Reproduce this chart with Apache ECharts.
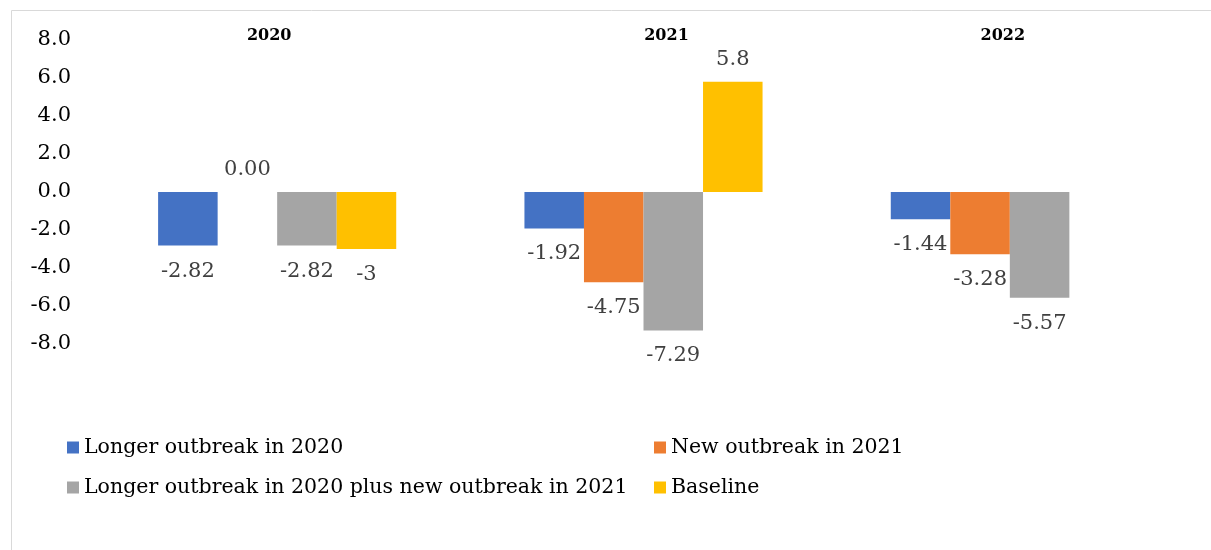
<!DOCTYPE html>
<html>
<head>
<meta charset="utf-8">
<script src="https://cdn.jsdelivr.net/npm/echarts@6/dist/echarts.min.js"></script>
<style>
  html, body { margin: 0; padding: 0; background: #fff; }
  #chart { width: 1211px; height: 550px; }
</style>
</head>
<body>
<div id="chart"></div>
<script>
const years = ['2020', '2021', '2022']
const seriesNames = [
  'Longer outbreak in 2020',
  'New outbreak in 2021',
  'Longer outbreak in 2020 plus new outbreak in 2021',
  'Baseline'
]
const longer2020 = [-2.82, -1.92, -1.44]
const new2021 = [0.00, -4.75, -3.28]
const longerPlusNew = [-2.82, -7.29, -5.57]
const baseline = [-3, 5.8, null]
const labelText = [
  ['-2.82', '-1.92', '-1.44'],
  ['0.00', '-4.75', '-3.28'],
  ['-2.82', '-7.29', '-5.57'],
  ['-3', '5.8', '']
]
const colors = ['#4472C4', '#ED7D31', '#A5A5A5', '#FFC000']
const yTicks = [-8, -6, -4, -2, 0, 2, 4, 6, 8]

const serif = 'DejaVu Serif, serif'

function makeSeries(idx, values) {
  return {
    name: seriesNames[idx],
    type: 'bar',
    barGap: 0,
    barCategoryGap: '35%',
    itemStyle: { color: colors[idx] },
    data: values.map((v, i) => ({
      value: v,
      label: {
        show: v !== null,
        position: v < 0 ? 'bottom' : 'top',
        distance: v < 0 ? 15 : 12,
        formatter: () => labelText[idx][i]
      }
    })),
    label: {
      color: '#404040',
      fontFamily: serif,
      fontSize: 21
    }
  }
}

// excel put the year labels a little off the category centres
const yearFont = { fontSize: 16, fontWeight: 'bold', color: '#000', fontFamily: serif }
const yearShift = {
  y0: Object.assign({ padding: [0, 16, 0, 0] }, yearFont),
  y1: Object.assign({ padding: [0, 0, 0, 46] }, yearFont),
  y2: Object.assign({ padding: [0, 14, 0, 0] }, yearFont)
}

const legendText = { fontSize: 20.5, color: '#000', fontFamily: serif }

const myChart = echarts.init(document.getElementById('chart'))
myChart.setOption({
  animation: false,
  textStyle: { fontFamily: serif },
  graphic: [{
    type: 'rect',
    shape: { x: 11.5, y: 10.5, width: 1400, height: 800 },
    style: { fill: 'none', stroke: '#d9d9d9', lineWidth: 1 }
  }],
  grid: { left: 94, right: 18, top: 40, bottom: 206 },
  legend: [
    {
      orient: 'vertical',
      left: 62,
      top: 432,
      itemWidth: 12,
      itemHeight: 12,
      itemGap: 19,
      icon: 'rect',
      textStyle: legendText,
      data: [seriesNames[0], seriesNames[2]]
    },
    {
      orient: 'vertical',
      left: 649,
      top: 432,
      itemWidth: 12,
      itemHeight: 12,
      itemGap: 19,
      icon: 'rect',
      textStyle: legendText,
      data: [seriesNames[1], seriesNames[3]]
    }
  ],
  xAxis: {
    type: 'category',
    position: 'top',
    data: years,
    axisLine: { show: false },
    axisTick: { show: false },
    axisLabel: {
      margin: -4,
      formatter: (v, i) => '{y' + i + '|' + v + '}',
      rich: yearShift
    }
  },
  yAxis: {
    type: 'value',
    min: yTicks[0],
    max: yTicks[yTicks.length - 1],
    interval: 2,
    splitLine: { show: false },
    axisLine: { show: false },
    axisTick: { show: false },
    axisLabel: {
      margin: 23,
      color: '#000',
      fontSize: 21,
      fontFamily: serif,
      formatter: v => v.toFixed(1)
    }
  },
  series: [
    makeSeries(0, longer2020),
    makeSeries(1, new2021),
    makeSeries(2, longerPlusNew),
    makeSeries(3, baseline)
  ]
})
</script>
</body>
</html>
